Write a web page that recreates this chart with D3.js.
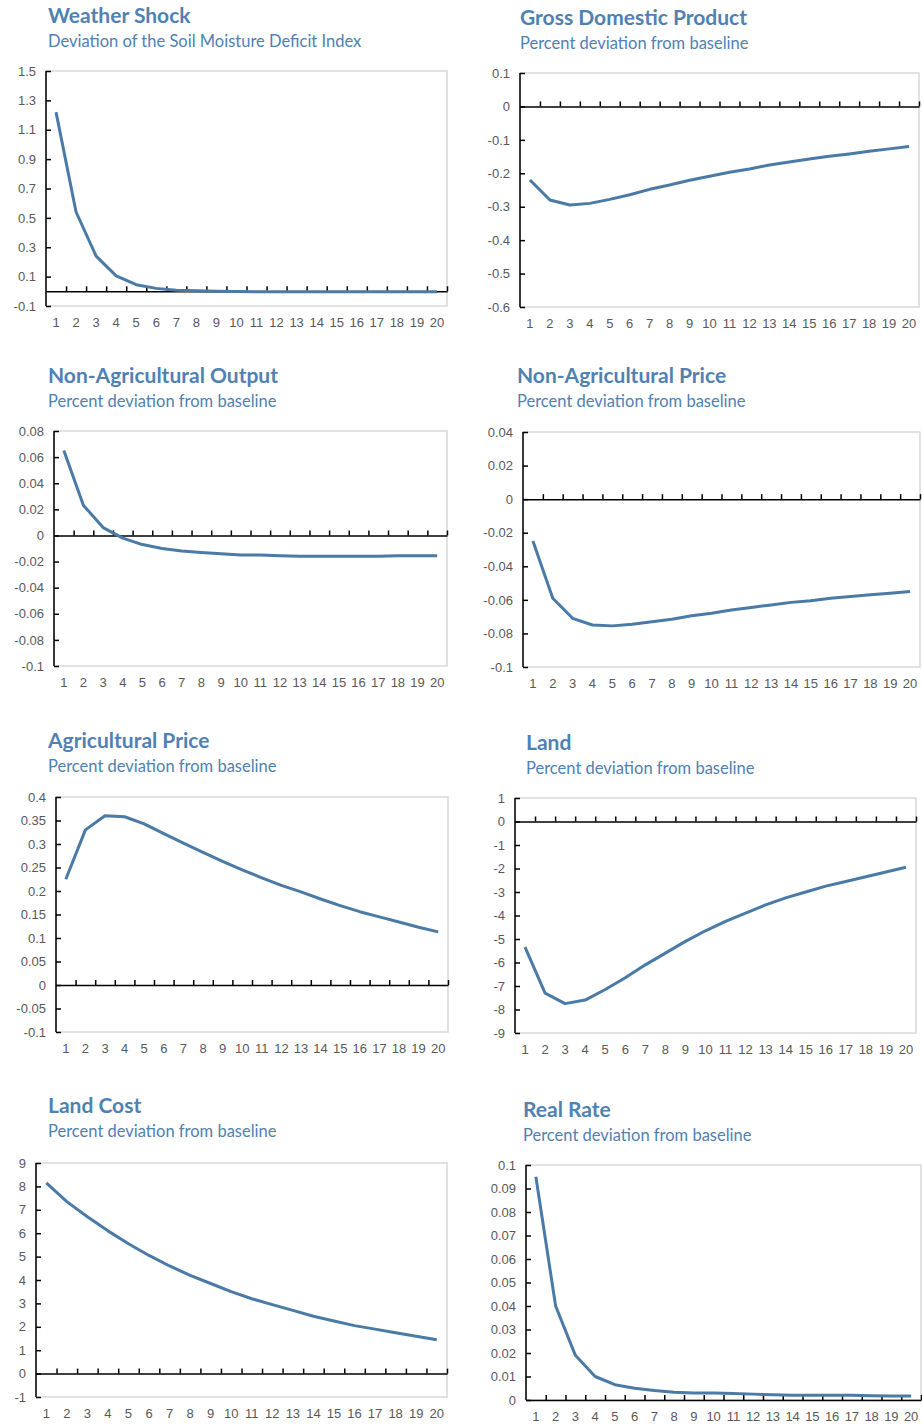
<!DOCTYPE html>
<html>
<head>
<meta charset="utf-8">
<script src="https://cdn.jsdelivr.net/npm/d3@7"></script>
<style>
  body { margin: 0; background: #fff; }
  svg { display: block; font-family: Lato, "Open Sans", sans-serif; }
  .title { fill: #4f81b3; font-weight: bold; font-size: 21px; }
  .subtitle { fill: #4f81b3; font-size: 16.5px; }
  .tick text { fill: #595959; font-size: 13px; }
</style>
</head>
<body>
<div id="chart"></div>
<script>
var periods = d3.range(1, 21);

var weatherShock = [1.22, 0.54, 0.24, 0.105, 0.045, 0.02, 0.008, 0.004, 0.001, -0.002, -0.003, -0.003, -0.003, -0.003, -0.003, -0.003, -0.003, -0.003, -0.003, -0.003];
var gdp = [-0.22, -0.28, -0.295, -0.29, -0.278, -0.264, -0.248, -0.235, -0.221, -0.209, -0.197, -0.187, -0.175, -0.166, -0.157, -0.149, -0.142, -0.134, -0.127, -0.12];
var nonAgOutput = [0.065, 0.023, 0.006, -0.002, -0.007, -0.010, -0.012, -0.013, -0.014, -0.015, -0.015, -0.0155, -0.016, -0.016, -0.016, -0.016, -0.016, -0.0155, -0.0155, -0.0155];
var nonAgPrice = [-0.025, -0.059, -0.071, -0.075, -0.0755, -0.0745, -0.073, -0.0715, -0.0695, -0.068, -0.066, -0.0645, -0.063, -0.0615, -0.0605, -0.059, -0.058, -0.057, -0.056, -0.055];
var agPrice = [0.225, 0.33, 0.36, 0.358, 0.343, 0.322, 0.302, 0.282, 0.263, 0.245, 0.228, 0.212, 0.198, 0.183, 0.169, 0.156, 0.145, 0.134, 0.123, 0.113];
var land = [-5.35, -7.3, -7.75, -7.6, -7.15, -6.65, -6.1, -5.6, -5.1, -4.65, -4.25, -3.9, -3.55, -3.25, -3.0, -2.75, -2.55, -2.35, -2.15, -1.95];
var landCost = [8.15, 7.35, 6.7, 6.1, 5.55, 5.05, 4.6, 4.2, 3.85, 3.5, 3.2, 2.95, 2.7, 2.45, 2.25, 2.05, 1.9, 1.75, 1.6, 1.45];
var realRate = [0.095, 0.04, 0.019, 0.010, 0.0065, 0.005, 0.004, 0.0033, 0.003, 0.003, 0.0028, 0.0025, 0.0022, 0.002, 0.002, 0.002, 0.002, 0.0018, 0.0017, 0.0017];

var titles = ["Weather Shock", "Gross Domestic Product", "Non-Agricultural Output", "Non-Agricultural Price",
              "Agricultural Price", "Land", "Land Cost", "Real Rate"];
var subtitles = ["Deviation of the Soil Moisture Deficit Index"].concat(d3.range(7).map(function () { return "Percent deviation from baseline"; }));
var series = [weatherShock, gdp, nonAgOutput, nonAgPrice, agPrice, land, landCost, realRate];

var yTicks = [
    [1.5, 1.3, 1.1, 0.9, 0.7, 0.5, 0.3, 0.1, -0.1],
    [0.1, 0, -0.1, -0.2, -0.3, -0.4, -0.5, -0.6],
    [0.08, 0.06, 0.04, 0.02, 0, -0.02, -0.04, -0.06, -0.08, -0.1],
    [0.04, 0.02, 0, -0.02, -0.04, -0.06, -0.08, -0.1],
    [0.4, 0.35, 0.3, 0.25, 0.2, 0.15, 0.1, 0.05, 0, -0.05, -0.1],
    [1, 0, -1, -2, -3, -4, -5, -6, -7, -8, -9],
    [9, 8, 7, 6, 5, 4, 3, 2, 1, 0, -1],
    [0.1, 0.09, 0.08, 0.07, 0.06, 0.05, 0.04, 0.03, 0.02, 0.01, 0]
];

// plot boxes [left, top, right, bottom], title position [x, baseline]
var layout = [
    {box: [46, 71, 447, 306],    tx: 48,  ty: 23},
    {box: [520, 73, 919, 307],   tx: 520, ty: 25},
    {box: [54, 431, 447, 666],   tx: 48,  ty: 383},
    {box: [523, 432, 920, 667],  tx: 517, ty: 383},
    {box: [56, 797, 448, 1032],  tx: 48,  ty: 748},
    {box: [515, 798, 916, 1033], tx: 526, ty: 750},
    {box: [36, 1163, 447, 1397], tx: 48,  ty: 1113},
    {box: [526, 1165, 921, 1400], tx: 523, ty: 1117}
];

var lineColor = "#4a7aa6";

var svg = d3.select("#chart").append("svg")
    .attr("width", 922)
    .attr("height", 1427);

function fmt(v) { return String(+v.toFixed(4)); }

series.forEach(function (values, i) {
    var L = layout[i], b = L.box;
    var ticks = yTicks[i];
    var g = svg.append("g");

    g.append("text").attr("class", "title").attr("x", L.tx).attr("y", L.ty).text(titles[i]);
    g.append("text").attr("class", "subtitle").attr("x", L.tx).attr("y", L.ty + 24).text(subtitles[i]);

    var x = d3.scaleBand().domain(periods).range([b[0], b[2]]);
    var xb = d3.scaleLinear().domain([0, 20]).range([b[0], b[2]]);
    var y = d3.scaleLinear().domain([d3.min(ticks), d3.max(ticks)]).range([b[3], b[1]]);

    // light border
    g.append("rect")
        .attr("x", b[0]).attr("y", b[1])
        .attr("width", b[2] - b[0]).attr("height", b[3] - b[1])
        .attr("fill", "none").attr("stroke", "#d9d9d9").attr("stroke-width", 1.5);

    // y axis
    var ya = g.append("g")
        .attr("transform", "translate(" + b[0] + ",0)")
        .call(d3.axisLeft(y).tickValues(ticks).tickFormat(fmt).tickSize(-5).tickSizeOuter(0).tickPadding(10));
    ya.selectAll("path, line").attr("stroke", "#000").attr("stroke-width", 1.5);
    ya.select(".domain").attr("d", "M0," + b[3] + "V" + b[1]);

    // x axis line at zero with upward ticks
    var xa = g.append("g")
        .attr("transform", "translate(0," + y(0) + ")")
        .call(d3.axisTop(xb).tickValues(d3.range(1, 21)).tickSize(5).tickSizeOuter(0).tickFormat(""));
    xa.selectAll("path, line").attr("stroke", "#000").attr("stroke-width", 1.5);

    // x labels at the bottom
    var xl = g.append("g")
        .attr("transform", "translate(0," + b[3] + ")")
        .call(d3.axisBottom(x).tickSize(0).tickPadding(12));
    xl.select(".domain").remove();

    var line = d3.line()
        .x(function (d, j) { return x(periods[j]) + x.bandwidth() / 2; })
        .y(function (d) { return y(d); });

    g.append("path")
        .datum(values)
        .attr("fill", "none")
        .attr("stroke", lineColor)
        .attr("stroke-width", 3)
        .attr("stroke-linejoin", "round")
        .attr("d", line);
});
</script>
</body>
</html>
